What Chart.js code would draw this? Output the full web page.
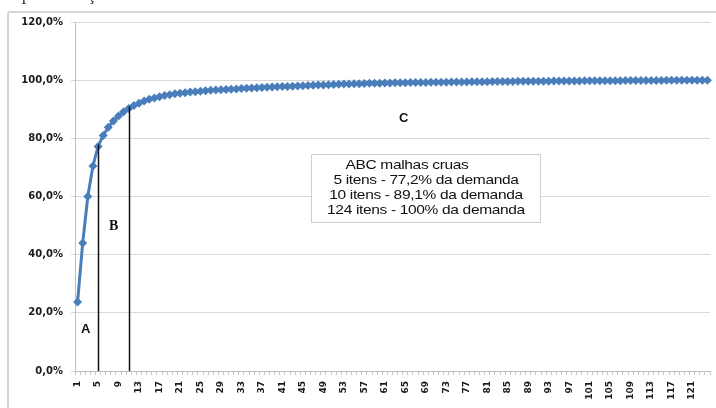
<!DOCTYPE html>
<html lang="pt">
<head>
<meta charset="UTF-8">
<title>ABC malhas cruas</title>
<style>
    body { margin: 0; background: #fff; }
    #wrap { position: relative; width: 716px; height: 408px; overflow: hidden; }
    #frame {
        position: absolute; left: 7px; top: 11px; width: 716px; height: 410px;
        border: 2px solid #d6d6d6; border-radius: 3px; box-sizing: border-box;
    }
    canvas { position: absolute; left: 0; top: 0; }
    .cut { position: absolute; top: -14px; font: 16px "Liberation Serif", serif; color: #222; }
    .tag { position: absolute; font: bold 13px "Liberation Sans", Arial, sans-serif; color: #111; }
    #box {
        position: absolute; left: 311px; top: 154px; width: 230px; height: 69px;
        box-sizing: border-box; border: 1.5px solid #cfcfcf; background: #fff;
        font: 13.5px "Liberation Sans", Arial, sans-serif; color: #111;
        letter-spacing: -0.3px; text-align: center; padding-top: 2px;
    }
    #box div { height: 15px; line-height: 15px; transform: scaleX(1.15); }
</style>
<script src="https://cdn.jsdelivr.net/npm/chart.js"></script>
</head>
<body>
<div id="wrap">
    <div id="frame"></div>
    <canvas id="abcChart" width="716" height="408"></canvas>
    <span class="cut" style="left:22px">p</span>
    <span class="cut" style="left:88px">ç</span>
    <span class="tag" style="left:81px; top:321px">A</span>
    <span class="tag" style="left:109px; top:218px; font-family:'Liberation Serif', serif; font-size:14px">B</span>
    <span class="tag" style="left:399px; top:110px">C</span>
    <div id="box">
        <div style="margin-right:38px">ABC malhas cruas</div>
        <div>5 itens - 77,2% da demanda</div>
        <div>10 itens - 89,1% da demanda</div>
        <div>124 itens - 100% da demanda</div>
    </div>
</div>
<script>
    // cumulative share of demand (%) per item, sorted by demand
    const cumulative = [
        23.7, 44.0, 60.0, 70.5, 77.2, 81.0, 83.8, 86.0, 87.7, 89.1,
        90.3, 91.3, 92.1, 92.8, 93.4, 93.9, 94.3, 94.7, 95.0, 95.3,
        95.5, 95.7, 95.9, 96.05, 96.2, 96.35, 96.5, 96.6, 96.7, 96.8,
        96.9, 97.0, 97.1, 97.2, 97.3, 97.4, 97.45, 97.55, 97.62, 97.7,
        97.78, 97.86, 97.94, 98.02, 98.1, 98.17, 98.24, 98.31, 98.38, 98.45,
        98.52, 98.58, 98.64, 98.7, 98.75, 98.8, 98.85, 98.9, 98.94, 98.98,
        99.02, 99.05, 99.08, 99.11, 99.14, 99.17, 99.2, 99.22, 99.24, 99.26,
        99.28, 99.3, 99.32, 99.34, 99.36, 99.38, 99.4, 99.42, 99.44, 99.46,
        99.48, 99.5, 99.52, 99.54, 99.56, 99.58, 99.6, 99.61, 99.62, 99.63,
        99.65, 99.66, 99.67, 99.69, 99.7, 99.71, 99.73, 99.74, 99.75, 99.77,
        99.78, 99.79, 99.8, 99.81, 99.82, 99.83, 99.84, 99.85, 99.86, 99.87,
        99.88, 99.89, 99.9, 99.91, 99.92, 99.93, 99.94, 99.95, 99.96, 99.97,
        99.98, 99.99, 100.0, 100.0
    ];
    // item ranks on the x axis (1..124)
    const items = cumulative.map((v, i) => String(i + 1));
    // y axis ticks
    const yTicks = [0, 20, 40, 60, 80, 100, 120];
    // A|B and B|C class boundaries (item rank)
    const dividerAt = [5, 11];

    const dividers = {
        id: 'dividers',
        afterDatasetsDraw(chart) {
            const { ctx, scales: { x, y } } = chart;
            ctx.save();
            ctx.strokeStyle = '#111';
            ctx.lineWidth = 1.5;
            dividerAt.forEach(n => {
                const px = Math.round(x.getPixelForValue(n - 1)) + 0.5;
                ctx.beginPath();
                ctx.moveTo(px, y.getPixelForValue(cumulative[n - 1]) - 2);
                ctx.lineTo(px, y.bottom);
                ctx.stroke();
            });
            ctx.restore();
        }
    };

    const tickFont = { family: '"DejaVu Sans", sans-serif', weight: 'bold' };

    new Chart(document.getElementById('abcChart'), {
        type: 'line',
        data: {
            labels: items,
            datasets: [{
                data: cumulative,
                borderColor: '#4a7ebb',
                backgroundColor: '#4a7ebb',
                borderWidth: 3,
                pointStyle: 'rectRot',
                pointRadius: 4.5,
                pointBorderWidth: 0,
                tension: 0
            }]
        },
        options: {
            responsive: false,
            animation: false,
            layout: { padding: { top: 22, right: 6, left: 0, bottom: 0 } },
            plugins: { legend: { display: false }, tooltip: { enabled: false } },
            scales: {
                x: {
                    offset: true,
                    afterFit: s => { s.height = 37; s.paddingLeft = 0; s.paddingRight = 0; },
                    grid: { offset: true, drawOnChartArea: false, tickLength: 4, color: '#c8c8c8' },
                    border: { color: '#bdbdbd' },
                    ticks: {
                        autoSkip: false,
                        minRotation: 90,
                        maxRotation: 90,
                        padding: 6,
                        color: '#1a1a1a',
                        font: { ...tickFont, size: 9 },
                        callback: function (val, idx) {
                            return idx % 4 === 0 ? this.getLabelForValue(val) : '';
                        }
                    }
                },
                y: {
                    min: 0,
                    max: 120,
                    afterFit: s => { s.width = 75; },
                    afterBuildTicks: s => { s.ticks = yTicks.map(v => ({ value: v })); },
                    grid: { color: '#d9d9d9', tickLength: 4 },
                    border: { color: '#bdbdbd' },
                    ticks: {
                        padding: 8,
                        color: '#1a1a1a',
                        font: { ...tickFont, size: 10 },
                        callback: v => v.toFixed(1).replace('.', ',') + '%'
                    }
                }
            }
        },
        plugins: [dividers]
    });
</script>
</body>
</html>
